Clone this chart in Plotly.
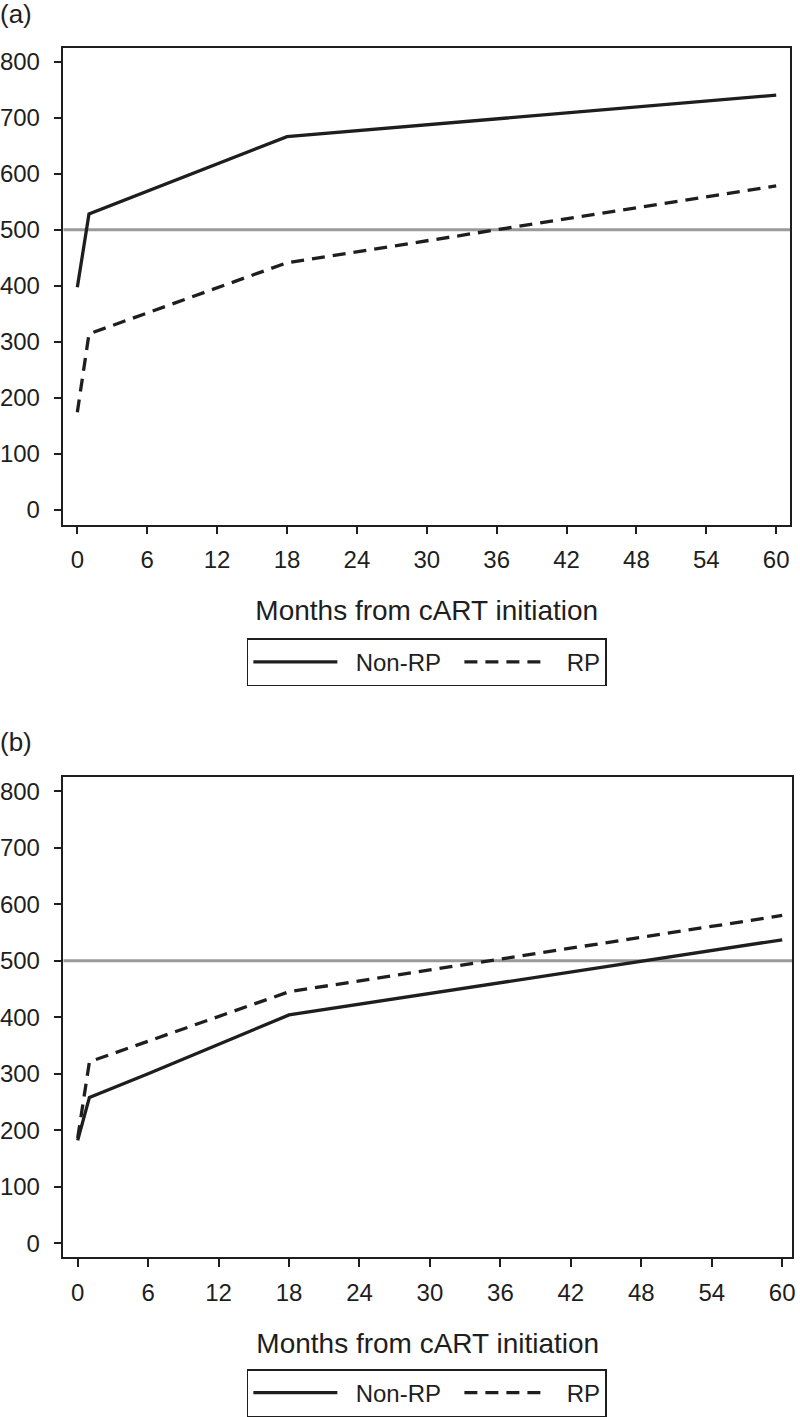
import plotly.graph_objects as go

# Panel (a)
a_nonrp_months = [0, 1, 18, 60]
a_nonrp_cd4 = [397, 528, 666, 740]
a_rp_months = [0, 1, 18, 60]
a_rp_cd4 = [174, 314, 441, 578]

# Panel (b)
b_nonrp_months = [0, 1, 6, 18, 60]
b_nonrp_cd4 = [182, 258, 300, 404, 537]
b_rp_months = [0, 1, 18, 60]
b_rp_cd4 = [186, 321, 445, 580]

threshold = 500
x_ticks = [0, 6, 12, 18, 24, 30, 36, 42, 48, 54, 60]
y_ticks = [0, 100, 200, 300, 400, 500, 600, 700, 800]
x_title = "Months from cART initiation"
panel_labels = ["(a)", "(b)"]
series_names = ["Non-RP", "RP"]

W, H = 800, 1417
FONT = "Liberation Sans, Arial, sans-serif"
INK = "#1e1e1e"
NB = "\u00a0"
legend_labels = [NB * 2 + series_names[0] + NB * 2, NB * 2 + series_names[1]]

fig = go.Figure()

def add_panel(idx, xs_n, ys_n, xs_r, ys_r, legend_name):
    xa = "x" if idx == 1 else "x2"
    ya = "y" if idx == 1 else "y2"
    fig.add_trace(go.Scatter(x=xs_n, y=ys_n, mode="lines", name=legend_labels[0],
                             line=dict(color=INK, width=3.3, dash="solid"),
                             xaxis=xa, yaxis=ya, legend=legend_name))
    fig.add_trace(go.Scatter(x=xs_r, y=ys_r, mode="lines", name=legend_labels[1],
                             line=dict(color=INK, width=3.3, dash="13px,8px"),
                             xaxis=xa, yaxis=ya, legend=legend_name))
    fig.add_shape(type="line", xref=f"{xa} domain", yref=ya, x0=0, x1=1,
                  y0=threshold, y1=threshold, layer="below",
                  line=dict(color="#9a9a9a", width=3))

add_panel(1, a_nonrp_months, a_nonrp_cd4, a_rp_months, a_rp_cd4, "legend")
add_panel(2, b_nonrp_months, b_nonrp_cd4, b_rp_months, b_rp_cd4, "legend2")

axis_common = dict(showline=True, mirror=True, linecolor=INK, linewidth=1.5,
                   ticks="outside", ticklen=8, tickwidth=1.5, tickcolor=INK,
                   showgrid=False, zeroline=False,
                   tickfont=dict(family=FONT, size=24, color=INK))

def ydom(top, bottom):
    return [1 - bottom / H, 1 - top / H]

legend_common = dict(orientation="h", xanchor="left", yanchor="top",
                     bordercolor=INK, borderwidth=1.5, bgcolor="white",
                     font=dict(family=FONT, size=24, color=INK),
                     itemwidth=84,
                     itemclick=False, itemdoubleclick=False)

title_font = dict(family=FONT, size=28, color=INK)

fig.update_layout(
    width=W, height=H,
    margin=dict(l=0, r=0, t=0, b=0),
    paper_bgcolor="white", plot_bgcolor="white",
    showlegend=True,
    xaxis=dict(**axis_common, domain=[60 / W, 793 / W], range=[-1.19, 61.19],
               tickvals=x_ticks, anchor="y", ticklabelstandoff=5,
               title=dict(text=x_title, font=title_font, standoff=28)),
    yaxis=dict(**axis_common, domain=ydom(48, 526), range=[-26.2, 824.4],
               tickvals=y_ticks, anchor="x", ticklabelstandoff=9),
    xaxis2=dict(**axis_common, domain=[60 / W, 795 / W], range=[-1.21, 60.84],
                tickvals=x_ticks, anchor="y2", ticklabelstandoff=5,
                title=dict(text=x_title, font=title_font, standoff=28)),
    yaxis2=dict(**axis_common, domain=ydom(779, 1261), range=[-25.2, 825.4],
                tickvals=y_ticks, anchor="x2", ticklabelstandoff=9),
    legend=dict(**legend_common, x=245 / W, y=1 - 640 / H),
    legend2=dict(**legend_common, x=245 / W, y=1 - 1373 / H),
)

for label, yc in zip(panel_labels, [14, 744]):
    fig.add_annotation(text=label, xref="paper", yref="paper", x=0, y=1 - yc / H,
                       xanchor="left", yanchor="middle", showarrow=False, xshift=-6,
                       font=dict(family=FONT, size=26, color=INK))

fig.write_html("out.html", config={"displayModeBar": False},
               post_script="document.body.style.margin='0px';")
